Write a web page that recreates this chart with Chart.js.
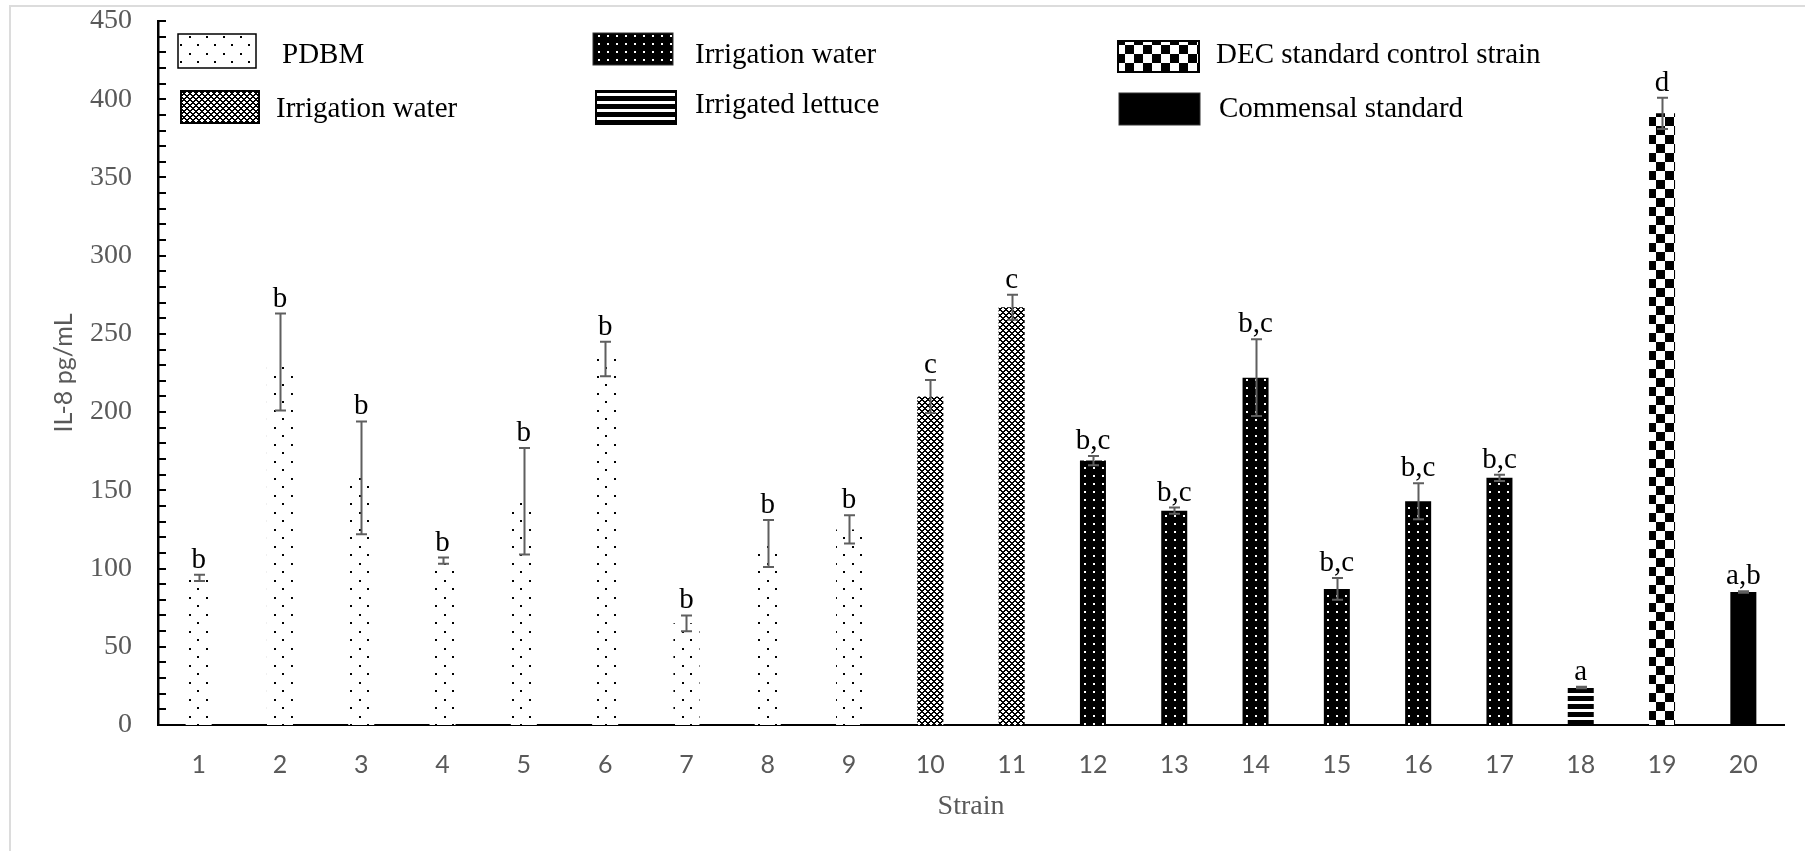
<!DOCTYPE html>
<html>
<head>
<meta charset="utf-8">
<title>IL-8 by strain</title>
<script src="https://cdn.jsdelivr.net/npm/chart.js@4.4.1/dist/chart.umd.min.js"></script>
<style>
  html, body { margin: 0; padding: 0; background: #fff; overflow: hidden; }
  #frame { position: absolute; left: 9px; top: 5px; width: 1820px; height: 870px;
           border-left: 2px solid #dcdcdc; border-top: 2px solid #dcdcdc; }
  #chart { position: absolute; left: 0; top: 0; }
</style>
</head>
<body>
<div id="frame"></div>
<canvas id="chart" width="1805" height="851"></canvas>
<script>
// IL-8 secretion (pg/mL) per strain, mean and error, with significance letters
const strains = ['1','2','3','4','5','6','7','8','9','10','11','12','13','14','15','16','17','18','19','20'];
const il8Mean = [94, 232, 158, 105, 143, 234, 65, 116, 125, 210, 267, 169, 137, 222, 87, 143, 158, 24, 391, 85];
const il8Err  = [2, 31, 36, 2, 34, 11, 5, 15, 9, 10.5, 8, 3, 2, 24.5, 7, 11.5, 2, 0.5, 10, 0.5];
const letters = ['b','b','b','b','b','b','b','b','b','c','c','b,c','b,c','b,c','b,c','b,c','b,c','a','d','a,b'];
const sourceGroup = ['pdbm','pdbm','pdbm','pdbm','pdbm','pdbm','pdbm','pdbm','pdbm',
                     'waterA','waterA','waterB','waterB','waterB','waterB','waterB','waterB',
                     'lettuce','dec','commensal'];
const legendGroups = ['pdbm','waterA','waterB','lettuce','dec','commensal'];
const legendLabels = ['PDBM','Irrigation water','Irrigation water','Irrigated lettuce',
                      'DEC standard control strain','Commensal standard'];
const yMin = 0, yMax = 450, yStep = 50, yMinorStep = 10;

const canvas = document.getElementById('chart');
const ctx = canvas.getContext('2d');

function tile(w, h, paint) {
  const c = document.createElement('canvas');
  c.width = w; c.height = h;
  paint(c.getContext('2d'), w, h);
  return ctx.createPattern(c, 'repeat');
}

// Fill patterns for each source group
const fills = {
  pdbm: tile(17, 17, (g, w, h) => {
    g.fillStyle = '#fff'; g.fillRect(0, 0, w, h);
    g.fillStyle = '#000'; g.fillRect(2, 2, 2, 2); g.fillRect(10, 10, 2, 2);
  }),
  waterA: tile(6, 6, (g, w, h) => {
    g.fillStyle = '#fff'; g.fillRect(0, 0, w, h);
    g.fillStyle = '#000';
    for (let x = 0; x < w; x++) for (let y = 0; y < h; y++) {
      if ((x + y) % 6 < 2 || ((x - y + 6) % 6) < 2) g.fillRect(x, y, 1, 1);
    }
  }),
  waterB: tile(9, 8, (g, w, h) => {
    g.fillStyle = '#000'; g.fillRect(0, 0, w, h);
    g.fillStyle = '#fff'; g.fillRect(4, 3, 2, 2);
  }),
  lettuce: tile(8, 8, (g, w, h) => {
    g.fillStyle = '#fff'; g.fillRect(0, 0, w, h);
    g.fillStyle = '#000'; g.fillRect(0, 0, w, 5);
  }),
  dec: tile(18, 18, (g, w, h) => {
    g.fillStyle = '#fff'; g.fillRect(0, 0, w, h);
    g.fillStyle = '#000'; g.fillRect(0, 0, 9, 9); g.fillRect(9, 9, 9, 9);
  }),
  commensal: '#000'
};

// Axis tick marks, error bars, significance letters and legend
const annotations = {
  id: 'annotations',
  afterDatasetsDraw(chart) {
    const { ctx: c, scales: { x, y } } = chart;
    c.save();
    // minor/major tick marks on the inner side of the value axis
    c.strokeStyle = '#000';
    c.lineWidth = 2;
    for (let v = yMin; v <= yMax; v += yMinorStep) {
      const py = Math.round(y.getPixelForValue(v));
      c.beginPath(); c.moveTo(x.left, py); c.lineTo(x.left + 8, py); c.stroke();
    }
    // error bars
    c.strokeStyle = '#5f5f5f';
    c.lineWidth = 2;
    il8Mean.forEach((m, i) => {
      const px = Math.round(x.getPixelForValue(i)) + 0.5;
      const top = y.getPixelForValue(m + il8Err[i]);
      const bot = y.getPixelForValue(m - il8Err[i]);
      c.beginPath();
      c.moveTo(px, top); c.lineTo(px, bot);
      c.moveTo(px - 5.5, top); c.lineTo(px + 5.5, top);
      c.moveTo(px - 5.5, bot); c.lineTo(px + 5.5, bot);
      c.stroke();
    });
    // letters
    c.fillStyle = '#000';
    c.font = '29px "Liberation Serif", "Times New Roman", serif';
    c.textAlign = 'center';
    c.textBaseline = 'alphabetic';
    letters.forEach((t, i) => {
      const px = x.getPixelForValue(i);
      const top = y.getPixelForValue(il8Mean[i] + il8Err[i]);
      c.fillText(t, px, top - 7);
    });
    c.restore();
  },
  afterDraw(chart) {
    const c = chart.ctx;
    const boxes = [
      { x: 178, y: 34, w: 78, h: 34, tx: 282, ty: 63, stroke: '#000', lw: 1.5 },
      { x: 181, y: 91, w: 78, h: 32, tx: 276, ty: 117, stroke: '#000', lw: 2 },
      { x: 593, y: 33, w: 80, h: 32, tx: 695, ty: 63, stroke: '#333', lw: 1 },
      { x: 596, y: 91, w: 80, h: 33, tx: 695, ty: 113, stroke: '#000', lw: 2 },
      { x: 1118, y: 41, w: 81, h: 31, tx: 1216, ty: 63, stroke: '#000', lw: 2 },
      { x: 1119, y: 93, w: 81, h: 32, tx: 1219, ty: 117, stroke: '#333', lw: 1 }
    ];
    c.save();
    c.font = '29px "Liberation Serif", "Times New Roman", serif';
    c.textAlign = 'left';
    c.textBaseline = 'alphabetic';
    boxes.forEach((b, i) => {
      c.fillStyle = fills[legendGroups[i]];
      c.fillRect(b.x, b.y, b.w, b.h);
      c.strokeStyle = b.stroke;
      c.lineWidth = b.lw;
      c.strokeRect(b.x, b.y, b.w, b.h);
      c.fillStyle = '#000';
      c.fillText(legendLabels[i], b.tx, b.ty);
    });
    c.restore();
  }
};

new Chart(ctx, {
  type: 'bar',
  data: {
    labels: strains,
    datasets: [{
      data: il8Mean,
      backgroundColor: sourceGroup.map(g => fills[g]),
      borderWidth: 0,
      barPercentage: 0.4,
      categoryPercentage: 0.8
    }]
  },
  options: {
    responsive: false,
    animation: false,
    devicePixelRatio: 1,
    layout: { padding: { left: 0, right: 21, top: 21, bottom: 0 } },
    plugins: { legend: { display: false }, tooltip: { enabled: false } },
    scales: {
      x: {
        grid: { display: false, drawTicks: false },
        border: { display: true, color: '#000', width: 2 },
        ticks: { color: '#595959', font: { family: 'Lato', size: 25 }, padding: 25, maxRotation: 0 },
        title: { display: true, text: 'Strain', color: '#595959',
                 font: { family: '"Liberation Serif"', size: 28 }, padding: { top: 0, bottom: 28 } },
        afterFit(scale) { scale.height = 126; }
      },
      y: {
        min: yMin, max: yMax,
        grid: { display: false, drawTicks: false },
        border: { display: true, color: '#000', width: 2.5 },
        ticks: { stepSize: yStep, color: '#595959', font: { family: '"Liberation Serif"', size: 28 }, padding: 26 },
        title: { display: true, text: 'IL-8 pg/mL', color: '#595959',
                 font: { family: 'Lato', size: 25 }, padding: { top: 49, bottom: 0 } },
        afterFit(scale) {
          scale.width = 158;
          scale.paddingTop = 0;
          scale.paddingBottom = 0;
        }
      }
    }
  },
  plugins: [annotations]
});
</script>
</body>
</html>
